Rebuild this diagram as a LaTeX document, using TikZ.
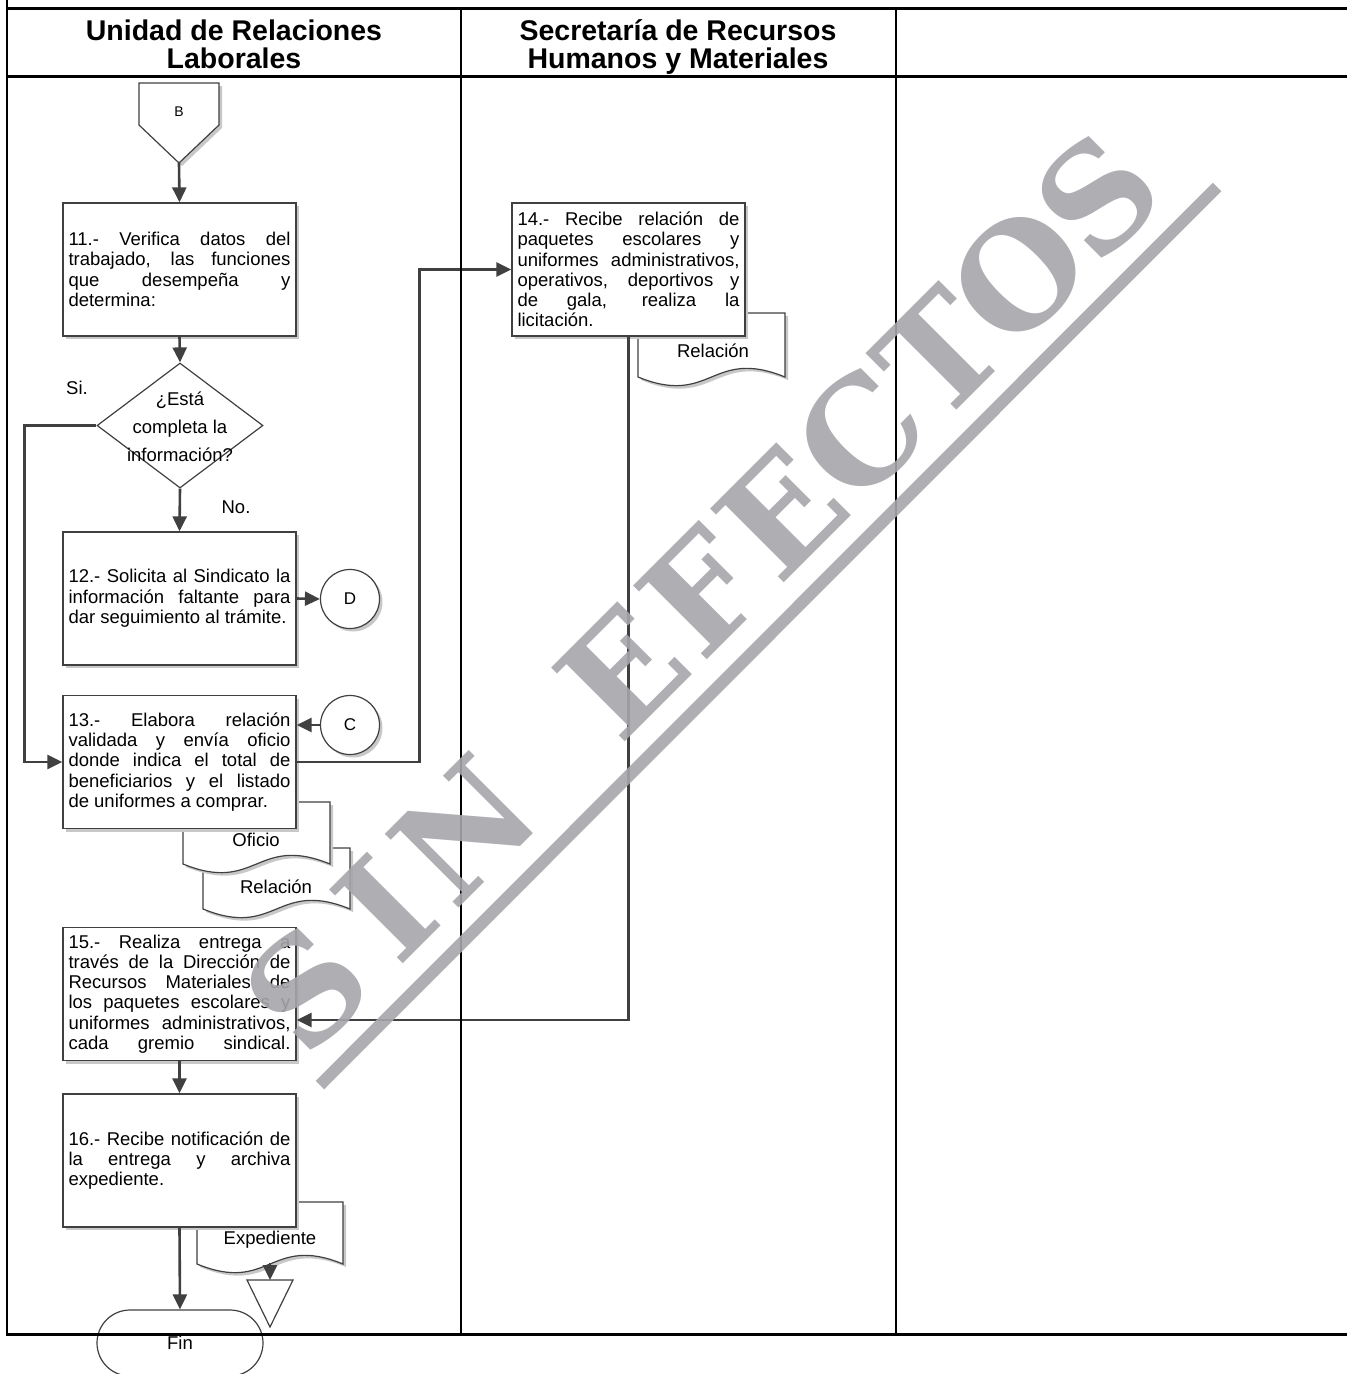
\documentclass[tikz,border=0pt]{standalone}
\usepackage{fontspec}
\setmainfont{Liberation Sans}
\newfontfamily\wmserif{DejaVu Serif}
\usetikzlibrary{arrows.meta,shadows,shapes.geometric}
\definecolor{lineC}{HTML}{404040}
\definecolor{shadowC}{HTML}{C8C8C8}
\definecolor{wmC}{RGB}{166,166,171}
\newcommand\bodyfont{\fontsize{18.5}{20.3}\selectfont}
\newcommand\jl[1]{\makebox[222pt][s]{#1}}
\newcommand\lastl[1]{\makebox[222pt][l]{#1}}
\newcommand\wmch[1]{\makebox[112pt]{#1}}
\newcommand\docshape[4]{%
  \path[docst] (#1,#2) -- (#3,#2) -- (#3,#4)
    .. controls ({(#1+#3)/2},{#4-30}) and ({(#1+#3)/2},{#4+30}) .. (#1,#4) -- cycle;}
\begin{document}
\begin{tikzpicture}[x=1pt,y=-1pt,
  shd/.style={drop shadow={shadow xshift=3pt,shadow yshift=-3pt,fill=shadowC,opacity=1}},
  procbox/.style={draw=lineC,line width=1.3pt,fill=white,minimum width=233pt,minimum height=133pt,
    inner sep=0pt,font=\bodyfont,align=left,shd},
  conn/.style={draw=lineC,line width=2.6pt,-{Triangle[length=15pt,width=14pt]}},
  conncirc/.style={circle,draw=lineC,line width=1.2pt,fill=white,minimum size=59pt,inner sep=0pt,
    font=\fontsize{17}{17}\selectfont,shd},
  docst/.style={draw=lineC,line width=1.2pt,fill=white,shd},
  lbl/.style={font=\bodyfont,inner sep=0pt},
  lane/.style={black,line width=2.5pt},
  hline/.style={black,line width=3pt},
  hdr/.style={font=\fontsize{28.5}{28.5}\selectfont\bfseries,anchor=base,inner sep=0pt}]
\useasboundingbox (0,0) rectangle (1347,1374);

% documents (behind boxes)
\docshape{638}{313}{785}{377}
\node[lbl] (docrel14) at (713,351) {Relación};
\docshape{203}{848}{350}{909}
\node[lbl] (docrel13) at (276,887) {Relación};
\docshape{183}{802}{330}{864}
\node[lbl] (docofi) at (256,840) {Oficio};
\docshape{197}{1202}{343}{1264}
\node[lbl] (docexp) at (270,1240) {Expediente};
\coordinate (expbot) at (270,1263);

% process boxes
\node[procbox] (b11) at (179.5,269.5) {\jl{11.- Verifica datos del}\\\jl{trabajado, las funciones}\\\jl{que desempeña y}\\\lastl{determina:}};
\node[procbox] (b12) at (179.5,598.5) {\jl{12.- Solicita al Sindicato la}\\\jl{información faltante para}\\\lastl{dar seguimiento al trámite.}};
\node[procbox] (b13) at (179.5,762) {\jl{13.- Elabora relación}\\\jl{validada y envía oficio}\\\jl{donde indica el total de}\\\jl{beneficiarios y el listado}\\\lastl{de uniformes a comprar.}};
\node[procbox] (b14) at (628.5,269.5) {\jl{14.- Recibe relación de}\\\jl{paquetes escolares y}\\\jl{uniformes administrativos,}\\\jl{operativos, deportivos y}\\\jl{de gala, realiza la}\\\lastl{licitación.}};
\node[procbox] (b15) at (179.5,994) {\jl{15.- Realiza entrega a}\\\jl{través de la Dirección de}\\\jl{Recursos Materiales de}\\\jl{los paquetes escolares y}\\\jl{uniformes administrativos,}\\\jl{cada gremio sindical.}};
\node[procbox] (b16) at (179.5,1160.5) {\jl{16.- Recibe notificación de}\\\jl{la entrega y archiva}\\\lastl{expediente.}};

% off-page connector B
\path[draw=lineC,line width=1.2pt,fill=white,shd] (139,83) -- (219,83) -- (219,125) -- (179,163) -- (139,125) -- cycle;
\node[font=\fontsize{14}{14}\selectfont,inner sep=0pt] (B) at (179,112) {B};
\coordinate (Btip) at (179,163);

% decision
\node[diamond,draw=lineC,line width=1.2pt,fill=white,minimum width=166pt,minimum height=125pt,inner sep=0pt] (dec) at (180,425.5) {};
\node[font=\fontsize{18.5}{28}\selectfont,align=center,inner sep=0pt] (dectxt) at (180,427) {¿Está\\completa la\\información?};
\node[lbl] (si) at (77,388) {Si.};
\node[lbl] (no) at (236,507) {No.};

% circles
\node[conncirc] (D) at (350,599) {D};
\node[conncirc] (C) at (350,725) {C};

% archive triangle
\path[draw=lineC,line width=1.2pt,fill=white] (247,1280) -- (293,1280) -- (270,1327) -- cycle;
\coordinate (tritop) at (270,1280);

% end terminator
\node[draw=lineC,line width=1.2pt,fill=white,rounded corners=33pt,minimum width=166pt,minimum height=66pt,
  font=\bodyfont,inner sep=0pt] (fin) at (180,1343) {Fin};

% connectors
\draw[conn] (Btip) -- (b11.north);
\draw[conn] (b11.south) -- (dec.north);
\draw[conn] (dec.south) -- (b12.north);
\draw[conn] (dec.west) -- ([xshift=-72pt]dec.west) |- (b13.west);
\draw[conn] (b12.east) -- (D.west);
\draw[conn] (C.west) -- (b13.east |- C.west);
\draw[conn] (b13.east) -- ([xshift=123pt]b13.east) |- (b14.west);
\draw[conn] (b14.south) |- ([yshift=-26pt]b15.east);
\draw[conn] (b15.south) -- (b16.north);
\draw[conn] (b16.south) -- (fin.north);
\draw[conn] (expbot) -- (tritop);

% frame / lanes
\draw[lane] (7,0) -- (7,1334);
\draw[lane] (461,8) -- (461,1334);
\draw[lane] (896,8) -- (896,1334);
\draw[hline] (5.75,8) -- (1347,8);
\draw[hline] (5.75,76) -- (1347,76);
\draw[hline] (5.75,1334) -- (1347,1334);

% headers
\node[hdr] (h1a) at (234,40.5) {Unidad de Relaciones};
\node[hdr] (h1b) at (234,68.5) {Laborales};
\node[hdr] (h2a) at (678,40.5) {Secretaría de Recursos};
\node[hdr] (h2b) at (678,68.5) {Humanos y Materiales};

% watermark
\draw[wmC,opacity=0.9,line width=12pt] (320,1085) -- (1217,187);
\node[rotate=45,anchor=base,text=wmC,text opacity=0.9,inner sep=0pt,
  font=\wmserif\bfseries\fontsize{143}{143}\selectfont] (wm) at (738.5,628.5)
  {\wmch{S}\wmch{I}\wmch{N}\wmch{\ }\wmch{E}\wmch{F}\wmch{E}\wmch{C}\wmch{T}\wmch{O}\wmch{S}};
\end{tikzpicture}
\end{document}
